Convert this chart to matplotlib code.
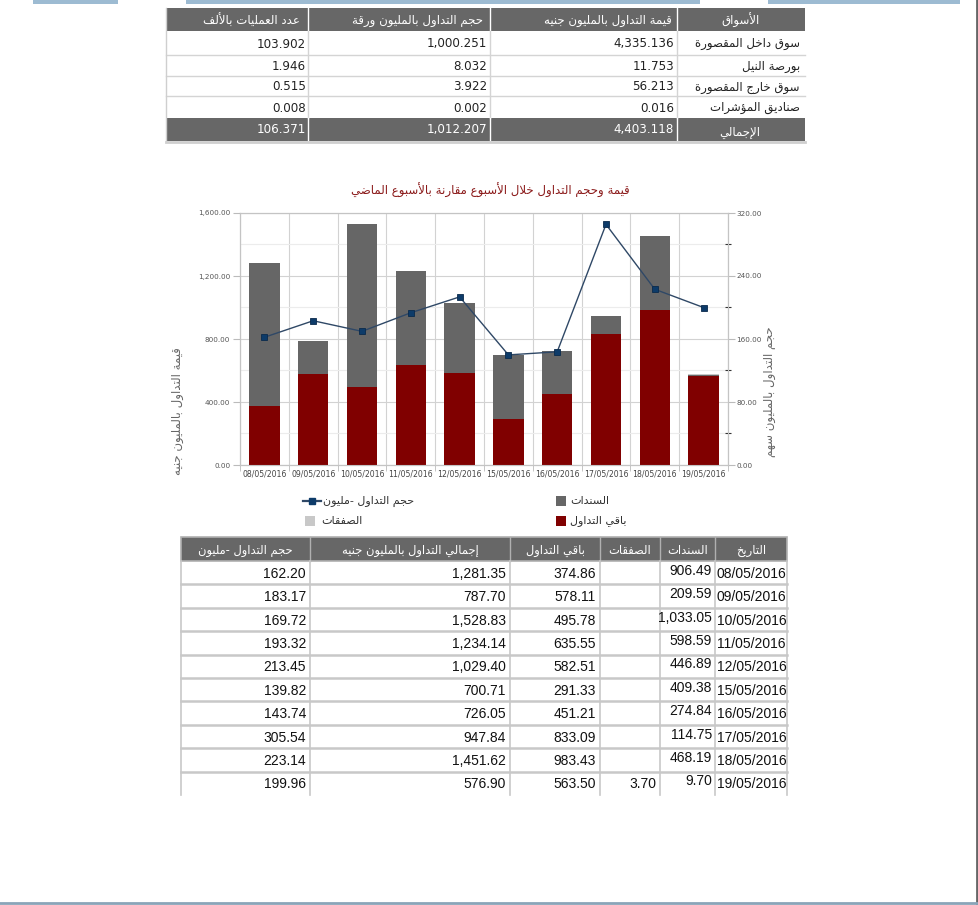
import numpy as np
import matplotlib
matplotlib.use("Agg")
import matplotlib.pyplot as plt
from matplotlib.patches import Rectangle
from matplotlib.ticker import FuncFormatter, MultipleLocator, FixedLocator

plt.rcParams["font.family"] = ["DejaVu Sans"]

# ---- data: market summary table ----
markets = ["سوق داخل المقصورة", "بورصة النيل", "سوق خارج المقصورة", "صناديق المؤشرات"]
mkt_value = [4335.136, 11.753, 56.213, 0.016]     # قيمة التداول بالمليون جنيه
mkt_volume = [1000.251, 8.032, 3.922, 0.002]      # حجم التداول بالمليون ورقة
mkt_trades = [103.902, 1.946, 0.515, 0.008]       # عدد العمليات بالألف
mkt_headers = ["الأسواق", "قيمة التداول بالمليون جنيه", "حجم التداول بالمليون ورقة", "عدد العمليات بالألف"]
total_label = "الإجمالي"

# ---- data: daily table / chart ----
dates = ["08/05/2016", "09/05/2016", "10/05/2016", "11/05/2016", "12/05/2016",
         "15/05/2016", "16/05/2016", "17/05/2016", "18/05/2016", "19/05/2016"]
bonds = [906.49, 209.59, 1033.05, 598.59, 446.89, 409.38, 274.84, 114.75, 468.19, 9.70]
deals = [np.nan, np.nan, np.nan, np.nan, np.nan, np.nan, np.nan, np.nan, np.nan, 3.70]
rest = [374.86, 578.11, 495.78, 635.55, 582.51, 291.33, 451.21, 833.09, 983.43, 563.50]
volume = [162.20, 183.17, 169.72, 193.32, 213.45, 139.82, 143.74, 305.54, 223.14, 199.96]
day_headers = ["حجم التداول -مليون", "إجمالي التداول بالمليون جنيه", "باقي التداول",
               "الصفقات", "السندات", "التاريخ"]

chart_title = "قيمة وحجم التداول خلال الأسبوع مقارنة بالأسبوع الماضي"
ylabel_left = "قيمة التداول بالمليون جنيه"
ylabel_right = "حجم التداول بالمليون سهم"
lbl_bonds = "السندات"
lbl_rest = "باقي التداول"
lbl_deals = "الصفقات"
lbl_volume = "حجم التداول -مليون"

# ---- tiny arabic shaper (no bidi packages here) ----
_FORMS = {0x0621: (0xFE80, 1), 0x0622: (0xFE81, 2), 0x0623: (0xFE83, 2), 0x0624: (0xFE85, 2),
          0x0625: (0xFE87, 2), 0x0626: (0xFE89, 4), 0x0627: (0xFE8D, 2), 0x0628: (0xFE8F, 4),
          0x0629: (0xFE93, 2), 0x062A: (0xFE95, 4), 0x062B: (0xFE99, 4), 0x062C: (0xFE9D, 4),
          0x062D: (0xFEA1, 4), 0x062E: (0xFEA5, 4), 0x062F: (0xFEA9, 2), 0x0630: (0xFEAB, 2),
          0x0631: (0xFEAD, 2), 0x0632: (0xFEAF, 2), 0x0633: (0xFEB1, 4), 0x0634: (0xFEB5, 4),
          0x0635: (0xFEB9, 4), 0x0636: (0xFEBD, 4), 0x0637: (0xFEC1, 4), 0x0638: (0xFEC5, 4),
          0x0639: (0xFEC9, 4), 0x063A: (0xFECD, 4), 0x0641: (0xFED1, 4), 0x0642: (0xFED5, 4),
          0x0643: (0xFED9, 4), 0x0644: (0xFEDD, 4), 0x0645: (0xFEE1, 4), 0x0646: (0xFEE5, 4),
          0x0647: (0xFEE9, 4), 0x0648: (0xFEED, 2), 0x0649: (0xFEEF, 2), 0x064A: (0xFEF1, 4)}
_LAMALEF = {0x0622: 0xFEF5, 0x0623: 0xFEF7, 0x0625: 0xFEF9, 0x0627: 0xFEFB}


def ar(text):
    items = []
    i = 0
    while i < len(text):
        c = ord(text[i])
        if c == 0x0644 and i + 1 < len(text) and ord(text[i + 1]) in _LAMALEF:
            items.append((_LAMALEF[ord(text[i + 1])], 2, True))
            i += 2
            continue
        if c in _FORMS:
            items.append((_FORMS[c][0], _FORMS[c][1], True))
        else:
            items.append((c, 0, False))
        i += 1
    out = []
    for k, (base, n, is_ar) in enumerate(items):
        if not is_ar:
            out.append(chr(base))
            continue
        jp = k > 0 and items[k - 1][1] == 4
        jn = n == 4 and k + 1 < len(items) and items[k + 1][1] >= 2
        if n == 1:
            g = base
        elif n == 2:
            g = base + 1 if jp else base
        else:
            g = base + (3 if (jp and jn) else 1 if jp else 2 if jn else 0)
        out.append(chr(g))
    return "".join(reversed(out))


W, H = 979, 905
fig = plt.figure(figsize=(W / 100, H / 100), dpi=100)
fig.patch.set_facecolor("white")

# overlay in pixel coords for the tables / frame bits
ov = fig.add_axes([0, 0, 1, 1])
ov.set_xlim(0, W)
ov.set_ylim(H, 0)
ov.axis("off")

HEAD = "#676767"
LINE = "#d4d4d4"

# top decorative strips + frame
for x0, x1 in [(33, 118), (186, 700), (768, 960)]:
    ov.add_patch(Rectangle((x0, 0), x1 - x0, 4, color="#9dbbd2", lw=0))
ov.plot([977.5, 977.5], [0, H], color="#666666", lw=2)
ov.plot([0, W], [903, 903], color="#8aa4b8", lw=2)

# ---------- top table ----------
tx = [166, 308, 490, 677, 805]
ty = [8, 31, 55, 76, 96, 118, 141]
ov.add_patch(Rectangle((tx[0], ty[0]), tx[-1] - tx[0], ty[1] - ty[0], color=HEAD, lw=0))
ov.add_patch(Rectangle((tx[0], ty[5]), tx[-1] - tx[0], ty[6] - ty[5], color=HEAD, lw=0))
for xv in tx[1:-1]:
    ov.plot([xv, xv], [ty[0], ty[1]], color="white", lw=1)
    ov.plot([xv, xv], [ty[1], ty[5]], color=LINE, lw=1)
    ov.plot([xv, xv], [ty[5], ty[6]], color="white", lw=1)
for yv in ty[2:5]:
    ov.plot([tx[0], tx[-1]], [yv, yv], color=LINE, lw=1)
ov.plot([tx[0], tx[0]], [ty[0], ty[6]], color="#cfcfcf", lw=1)
ov.plot([tx[0], tx[-1]], [ty[6] + 1, ty[6] + 1], color="#cfcfcf", lw=2)

hdr_right = [760, 672, 483, 300]
for s, xr in zip(mkt_headers, hdr_right):
    ov.text(xr, (ty[0] + ty[1]) / 2 + 1, ar(s), ha="right", va="center", color="white", fontsize=8.5)

mkt_cols = [mkt_value, mkt_volume, mkt_trades]
num_right = [674, 487, 306]
for r, name in enumerate(markets):
    yc = (ty[r + 1] + ty[r + 2]) / 2 + 1
    ov.text(800, yc, ar(name), ha="right", va="center", color="#222222", fontsize=8.5)
    for col, xr in zip(mkt_cols, num_right):
        ov.text(xr, yc, f"{col[r]:,.3f}", ha="right", va="center", color="#222222", fontsize=8.6)
yc = (ty[5] + ty[6]) / 2 + 1
ov.text(760, yc + 2, ar(total_label), ha="right", va="center", color="white", fontsize=8.5)
for col, xr in zip(mkt_cols, num_right):
    ov.text(xr, yc - 1, f"{sum(col):,.3f}", ha="right", va="center", color="white", fontsize=8.6)

# ---------- chart ----------
ax = fig.add_axes([240 / W, 1 - 465 / H, 488 / W, 252 / H])
x = np.arange(len(dates))
rest_a = np.array(rest)
bonds_a = np.array(bonds)
deals_a = np.nan_to_num(np.array(deals))
ax.bar(x, rest_a, width=0.62, color="#800000", zorder=3)
ax.bar(x, bonds_a, width=0.62, bottom=rest_a, color="#666666", zorder=3)
ax.bar(x, deals_a, width=0.62, bottom=rest_a + bonds_a, color="#c8c8c8", zorder=3)
ax.set_xlim(-0.5, len(dates) - 0.5)
ax.set_ylim(0, 1600)
ax.yaxis.set_major_locator(MultipleLocator(400))
ax.yaxis.set_minor_locator(MultipleLocator(200))
ax.yaxis.set_major_formatter(FuncFormatter(lambda v, p: f"{v:,.2f}"))
ax.set_xticks(x)
ax.set_xticklabels(dates)
ax.xaxis.set_minor_locator(FixedLocator(np.arange(-0.5, len(dates), 1.0)))
ax.grid(axis="y", which="major", color="#d2d2d2", lw=0.8, zorder=0)
ax.grid(axis="y", which="minor", color="#ececec", lw=0.8, zorder=0)
ax.grid(axis="x", which="minor", color="#d2d2d2", lw=0.8, zorder=0)
ax.tick_params(axis="x", which="major", length=0, labelsize=5.6, labelcolor="#444444", pad=3)
ax.tick_params(axis="x", which="minor", length=4, color="#bbbbbb")
ax.tick_params(axis="y", which="major", length=5, color="#bbbbbb", labelsize=5.2,
               labelcolor="#555555", pad=2)
ax.tick_params(axis="y", which="minor", length=0)
for side in ["left", "bottom", "top", "right"]:
    ax.spines[side].set_color("#c4c4c4")
    ax.spines[side].set_linewidth(0.8)

ax2 = ax.twinx()
ax2.plot(x, volume, color="#2f4866", lw=1, marker="s", ms=4.5,
         mfc="#0d3b69", mec="#0a2a4c", mew=0.6, zorder=5)
ax2.set_ylim(0, 320)
ax2.yaxis.set_major_locator(MultipleLocator(80))
ax2.yaxis.set_minor_locator(MultipleLocator(40))
ax2.yaxis.set_major_formatter(FuncFormatter(lambda v, p: f"{v:,.2f}"))
ax2.tick_params(axis="y", which="major", length=5, color="#bbbbbb", labelsize=5.2,
                labelcolor="#555555", pad=1)
ax2.tick_params(axis="y", which="minor", length=4, direction="inout", color="#333333", width=0.8)
for side in ["left", "bottom", "top", "right"]:
    ax2.spines[side].set_color("#c4c4c4")
    ax2.spines[side].set_linewidth(0.8)

fig.text(490 / W, 1 - 190 / H, ar(chart_title), ha="center", va="center",
         color="#8b1a1a", fontsize=8.5)
fig.text(178 / W, 1 - 411 / H, ar(ylabel_left), ha="center", va="center",
         rotation=90, color="#666666", fontsize=8.5)
fig.text(770 / W, 1 - 392 / H, ar(ylabel_right), ha="center", va="center",
         rotation=90, color="#666666", fontsize=8.5)

# ---------- legend ----------
ov.plot([303, 321], [501, 501], color="#2f4866", lw=1.6)
ov.plot([312], [501], marker="s", ms=5, color="#0d3b69")
ov.text(323, 501, ar(lbl_volume), ha="left", va="center", color="#333333", fontsize=8)
ov.add_patch(Rectangle((305, 516), 10, 10, color="#c8c8c8", lw=0))
ov.text(321, 521, ar(lbl_deals), ha="left", va="center", color="#333333", fontsize=8)
ov.add_patch(Rectangle((556, 496), 10, 10, color="#666666", lw=0))
ov.text(570, 501, ar(lbl_bonds), ha="left", va="center", color="#333333", fontsize=8)
ov.add_patch(Rectangle((556, 516), 10, 10, color="#800000", lw=0))
ov.text(570, 521, ar(lbl_rest), ha="left", va="center", color="#333333", fontsize=8)

# ---------- bottom table ----------
bx = [181, 310, 510, 600, 660, 715, 787]
h0, h1 = 537, 561
rh = (795 - h1) / len(dates)
ov.add_patch(Rectangle((bx[0], h0), bx[-1] - bx[0], h1 - h0, facecolor=HEAD,
                       edgecolor="#b0b0b0", lw=1.2))
for xv in bx[1:-1]:
    ov.plot([xv, xv], [h0, h1], color="#b0b0b0", lw=1)
for xv in bx:
    ov.plot([xv, xv], [h1, 795], color="#c8c8c8", lw=1.2)
for r in range(1, len(dates)):
    yv = h1 + r * rh
    ov.plot([bx[0], bx[-1]], [yv, yv], color="#c8c8c8", lw=1.8)
for c, s in enumerate(day_headers):
    ov.text((bx[c] + bx[c + 1]) / 2, (h0 + h1) / 2 + 1, ar(s), ha="center", va="center",
            color="white", fontsize=8.3)

total = [rest[i] + bonds[i] + (0 if np.isnan(deals[i]) else deals[i]) for i in range(len(dates))]
day_cols = [volume, total, rest, deals]
for r in range(len(dates)):
    yc = h1 + (r + 0.5) * rh + 1
    for c, col in enumerate(day_cols):
        v = col[r]
        if np.isnan(v):
            continue
        ov.text(bx[c + 1] - 4, yc, f"{v:,.2f}", ha="right", va="center", color="#111111",
                fontsize=10, family="Liberation Sans")
    ov.text(bx[5] - 3, yc - 3, f"{bonds[r]:,.2f}", ha="right", va="center", color="#111111",
            fontsize=10, family="Liberation Sans")
    ov.text(bx[5] + 2, yc, dates[r], ha="left", va="center", color="#111111",
            fontsize=10, family="Liberation Sans")

fig.savefig("out.png", dpi=100)
